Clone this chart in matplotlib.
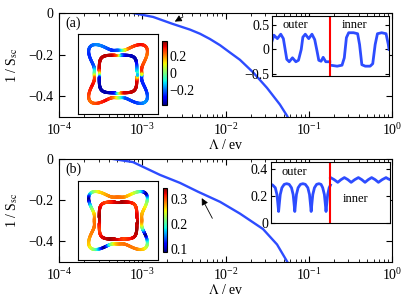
import numpy as np
import matplotlib
matplotlib.use("Agg")
import matplotlib.pyplot as plt
from matplotlib.collections import LineCollection
from matplotlib.cm import ScalarMappable
from matplotlib.colors import Normalize

plt.rcParams["font.family"] = ["Liberation Serif", "DejaVu Serif"]
plt.rcParams["mathtext.fontset"] = "stix"
plt.rcParams["font.size"] = 10

# curve 1/S_sc vs Lambda, panel (a) and (b)
lam_a = [6.6e-4, 7.7e-4, 1.35e-3, 2.3e-3, 3.75e-3, 4.95e-3, 6.5e-3, 8.6e-3,
         1.13e-2, 1.49e-2, 2.14e-2, 3.15e-2, 4.5e-2, 5.5e-2, 5.9e-2]
inv_s_a = [0.006, 0.0, -0.019, -0.052, -0.08, -0.10, -0.125, -0.155,
           -0.19, -0.225, -0.285, -0.36, -0.44, -0.495, -0.52]
lam_b = [3.8e-4, 4.46e-4, 7.74e-4, 1.63e-3, 2.84e-3, 4.68e-3, 8.6e-3,
         1.49e-2, 2.82e-2, 4.16e-2, 5.48e-2, 5.9e-2]
inv_s_b = [0.006, 0.0, -0.015, -0.077, -0.116, -0.159, -0.208,
           -0.265, -0.34, -0.415, -0.497, -0.52]

# gap along the fermi surfaces (angle in degrees), panel (a)
ang_out_a = [0, 12, 33, 54, 70, 81, 91, 106, 126, 147, 163, 180, 190, 205,
             226, 246, 263, 277, 288, 302, 315, 331, 356]
gap_out_a = [0.17, 0.29, 0.22, 0.31, 0.22, 0.0, -0.20, -0.25, -0.17, -0.25,
             -0.22, 0.0, 0.25, 0.31, 0.22, 0.31, 0.20, -0.03, -0.22, -0.24,
             -0.16, -0.25, -0.25]
ang_in_a = [0, 41, 71, 85, 98, 112, 142, 167, 179, 193, 214, 244, 260, 275,
            289, 315, 342, 356, 360]
gap_in_a = [-0.32, -0.34, -0.32, -0.17, 0.24, 0.34, 0.34, 0.32, 0.10, -0.31,
            -0.34, -0.34, -0.29, 0.10, 0.32, 0.34, 0.32, 0.10, 0.0]

# panel (b)
ang_out_b = [0, 10, 26, 36, 41, 46, 51, 56, 66, 80, 95, 110, 124, 134, 139,
             144, 149, 154, 164, 178, 193, 208, 223, 233, 238, 243, 248, 253,
             263, 276, 290, 303, 313, 323, 328, 333, 338, 343, 352, 360]
gap_out_b = [0.285, 0.28, 0.26, 0.21, 0.15, 0.085, 0.15, 0.21, 0.26, 0.285,
             0.29, 0.285, 0.26, 0.21, 0.15, 0.085, 0.15, 0.21, 0.26, 0.285,
             0.29, 0.285, 0.26, 0.21, 0.15, 0.085, 0.15, 0.21, 0.26, 0.285,
             0.29, 0.285, 0.26, 0.21, 0.15, 0.085, 0.15, 0.21, 0.26, 0.28]
ang_in_b = [0, 22, 44, 64, 84, 105, 125, 147, 169, 189, 209, 229, 249, 270,
            290, 313, 336, 350, 360]
gap_in_b = [0.335, 0.32, 0.30, 0.32, 0.335, 0.32, 0.30, 0.32, 0.335, 0.32,
            0.30, 0.32, 0.335, 0.32, 0.30, 0.32, 0.335, 0.325, 0.32]

blue = "#2d4cff"
fig = plt.figure(figsize=(4.15, 3.02), dpi=100)


def ring(ax, kind, ang, gap, norm):
    th = np.linspace(0, 2 * np.pi, 600)
    if kind == "outer":
        s = np.abs(np.sin(2 * th))
        r = 0.86 + 0.554 * s ** 4
    else:
        p = 5.0
        r = 0.68 / (np.abs(np.cos(th)) ** p + np.abs(np.sin(th)) ** p) ** (1 / p)
    x = r * np.cos(th)
    y = r * np.sin(th)
    pts = np.column_stack([x, y]).reshape(-1, 1, 2)
    segs = np.concatenate([pts[:-1], pts[1:]], axis=1)
    c = np.interp(np.degrees(th), ang, gap, period=360)
    lc = LineCollection(segs, cmap="jet", norm=norm, linewidths=2.2,
                        capstyle="round")
    lc.set_array(c[:-1])
    ax.add_collection(lc)


def panel(rect, lam, inv_s, label, arrow, fs_rect, cb_rect, clim, cticks,
          ctlabels, in_rect, ylim_in, yt_in, ytl_in, gaps, txt_pos):
    ax = fig.add_axes(rect)
    ax.semilogx(lam, inv_s, color=blue, lw=1.7)
    ax.set_xlim(1e-4, 1)
    ax.set_ylim(-0.5, 0)
    ax.set_yticks([0, -0.2, -0.4])
    ax.set_yticklabels(["0", "\u22120.2", "\u22120.4"])
    ax.set_xticks([1e-4, 1e-3, 1e-2, 1e-1, 1])
    ax.tick_params(which="both", direction="in", top=True, right=True,
                   labelsize=10, pad=4)
    ax.tick_params(which="major", length=4)
    ax.tick_params(which="minor", length=2)
    ax.set_ylabel(r"1 / S$_{\rm sc}$", fontsize=10, labelpad=6)
    ax.set_xlabel(r"$\Lambda$ / ev", fontsize=10, labelpad=0)
    ax.text(0.02, 0.9, label, transform=ax.transAxes, fontsize=10,
            va="center", ha="left")
    ax.annotate("", xy=arrow[0], xytext=arrow[1],
                arrowprops=dict(arrowstyle="-|>", color="k", lw=0.6,
                                mutation_scale=10))

    norm = Normalize(*clim)
    fs = fig.add_axes(fs_rect)
    fs.set_xlim(-1.45, 1.45)
    fs.set_ylim(-1.45, 1.45)
    fs.set_xticks([])
    fs.set_yticks([])
    ring(fs, "outer", gaps[0], gaps[1], norm)
    ring(fs, "inner", gaps[2], gaps[3], norm)

    cax = fig.add_axes(cb_rect)
    cb = fig.colorbar(ScalarMappable(norm=norm, cmap="jet"), cax=cax)
    cb.set_ticks(cticks)
    cb.set_ticklabels(ctlabels)
    cax.tick_params(length=0, labelsize=10, pad=2)
    cb.outline.set_linewidth(0.8)

    axi = fig.add_axes(in_rect)
    axi.plot(gaps[0], gaps[1], color=blue, lw=2)
    axi.plot(np.array(gaps[2]) + 360, gaps[3], color=blue, lw=2)
    axi.axvline(360, color="red", lw=1.5)
    axi.set_xlim(0, 720)
    axi.set_ylim(*ylim_in)
    axi.set_xticks([])
    axi.set_yticks(yt_in)
    axi.set_yticklabels(ytl_in)
    axi.tick_params(direction="in", right=True, length=3, labelsize=10, pad=2)
    axi.text(txt_pos[0][0], txt_pos[0][1], "outer", ha="center", va="center",
             fontsize=9)
    axi.text(txt_pos[1][0], txt_pos[1][1], "inner", ha="center", va="center",
             fontsize=9)
    return ax


panel([0.1422, 0.6126, 0.8024, 0.3444], lam_a, inv_s_a, "(a)",
      [(2.3e-3, -0.048), (3.3e-3, -0.012)],
      [0.188, 0.6225, 0.1928, 0.265], [0.3904, 0.6523, 0.012, 0.212],
      (-0.37, 0.38), [0.2, 0, -0.2], ["0.2", "0", "\u22120.2"],
      [0.6554, 0.7483, 0.2819, 0.1987], (-0.54, 0.68), [0.5, 0, -0.5],
      ["0.5", "0", "\u22120.5"],
      (ang_out_a, gap_out_a, ang_in_a, gap_in_a),
      [(141, 0.49), (511, 0.49)])

panel([0.1422, 0.1325, 0.8024, 0.341], lam_b, inv_s_b, "(b)",
      [(5.0e-3, -0.178), (7.2e-3, -0.30)],
      [0.188, 0.139, 0.1928, 0.2616], [0.3928, 0.1656, 0.0108, 0.212],
      (0.09, 0.342), [0.3, 0.2, 0.1], ["0.3", "0.2", "0.1"],
      [0.653, 0.2616, 0.2867, 0.202], (0, 0.45), [0, 0.2, 0.4],
      ["0", "0.2", "0.4"],
      (ang_out_b, gap_out_b, ang_in_b, gap_in_b),
      [(141, 0.375), (511, 0.18)])

fig.savefig("out.png", dpi=100)
